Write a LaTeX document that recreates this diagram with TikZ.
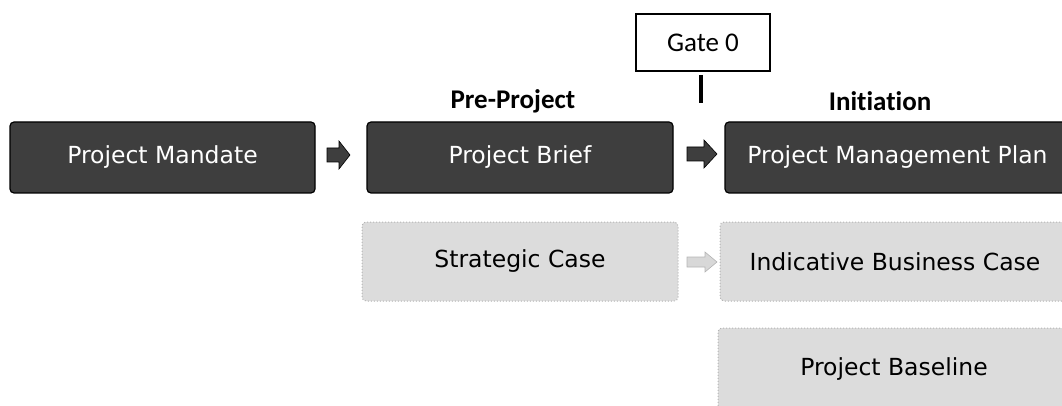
\documentclass[tikz,border=0pt]{standalone}
\usepackage{fontspec}
\setmainfont{DejaVu Sans}
\newfontfamily\labfont[Ligatures=NoCommon]{Carlito}
\definecolor{darkfill}{HTML}{3E3E3E}
\definecolor{lightfill}{HTML}{DCDCDC}
\definecolor{lightline}{HTML}{B4B4B4}
\definecolor{lightarrow}{HTML}{D8D8D8}
\begin{document}
\begin{tikzpicture}[x=1pt,y=-1pt,
  darkbox/.style={draw=black, line width=1.2pt, fill=darkfill, rounded corners=4pt,
    text=white, font=\fontsize{23.5}{25}\selectfont, inner sep=0pt, minimum height=71pt},
  lightbox/.style={draw=lightline, dotted, line width=1pt, fill=lightfill, rounded corners=4pt,
    text=black, font=\fontsize{23.5}{25}\selectfont, inner sep=0pt, minimum height=79pt},
  phaselabel/.style={font=\labfont\bfseries\fontsize{27}{29}\selectfont, inner sep=0pt},
  gatebox/.style={draw=black, line width=2.5pt, fill=white, font=\labfont\fontsize{27}{29}\selectfont,
    minimum width=134pt, minimum height=57pt, inner sep=0pt},
  darkarrow/.style={fill=darkfill, draw=black, line width=0.6pt},
  lightarrowstyle/.style={fill=lightarrow, draw=lightline, line width=0.6pt}
]
\useasboundingbox (0,0) rectangle (1062,406);
\clip (0,0) rectangle (1062,406);

% dark row
\node[darkbox, minimum width=305pt] (mandate) at (162.5,157.5) {Project Mandate};
\node[darkbox, minimum width=306pt] (brief) at (520,157.5) {Project Brief};
\node[darkbox, minimum width=345pt] (pmp) at (897.5,157.5) {Project Management Plan};

% light rows
\node[lightbox, minimum width=316pt] (strategic) at (520,261.5) {Strategic Case};
\node[lightbox, minimum width=350pt] (indicative) at (895,261.5) {Indicative Business Case};
\node[lightbox, minimum width=352pt, minimum height=82pt] (baseline) at (894,369) {Project Baseline};

% phase labels
\node[phaselabel] (prelab) at (513,101) {Pre-Project};
\node[phaselabel] (initlab) at (880,101) {Initiation};

% gate
\node[gatebox] (gate) at (703,42.5) {Gate 0};
\coordinate (gateend) at (701,103);
\draw[line width=4.5pt] (701,75) -- (gateend);

% block arrows
\path[darkarrow] (327,148) -- (339,148) -- (339,141) -- (350,155) -- (339,169) -- (339,162) -- (327,162) -- cycle;
\path[darkarrow] (687,147) -- (704,147) -- (704,140) -- (717,154) -- (704,168) -- (704,161) -- (687,161) -- cycle;
\path[lightarrowstyle] (687,257) -- (705,257) -- (705,252) -- (717,262) -- (705,272) -- (705,267) -- (687,267) -- cycle;
\end{tikzpicture}
\end{document}
